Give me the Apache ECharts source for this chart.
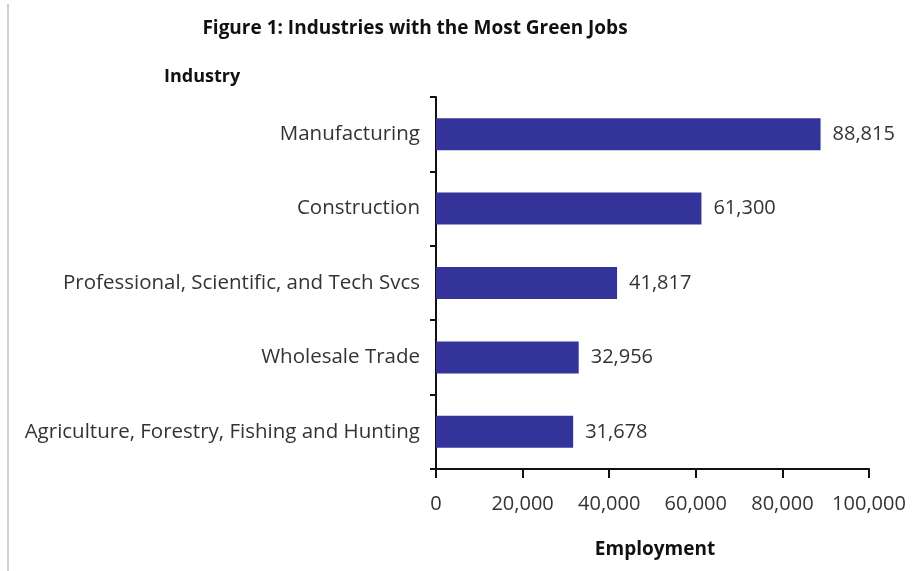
<!DOCTYPE html>
<html><head><meta charset="utf-8">
<script src="https://cdn.jsdelivr.net/npm/echarts@6/dist/echarts.min.js"></script>
<style>html,body{margin:0;padding:0;background:#fff}#c{width:917px;height:571px}</style>
</head><body><div id="c"></div>
<script>
const categories = ["Manufacturing","Construction","Professional, Scientific, and Tech Svcs","Wholesale Trade","Agriculture, Forestry, Fishing and Hunting"];
const employment = [88815, 61300, 41817, 32956, 31678];
const xTicks = [0, 20000, 40000, 60000, 80000, 100000];

const FONT = "Open Sans";
const BFONT = "Open Sans";
const fmt = v => v.toLocaleString('en-US');
const chart = echarts.init(document.getElementById('c'));
chart.setOption({
  animation: false,
  title: [
    {text: "Figure 1: Industries with the Most Green Jobs", left: 410, top: 14, textAlign: 'center',
     textStyle: {fontFamily: BFONT, fontWeight: 'bold', fontSize: 19, color: '#111'}},
    {text: "Industry", left: 159, top: 63,
     textStyle: {fontFamily: BFONT, fontWeight: 'bold', fontSize: 18, color: '#111'}},
    {text: "Employment", left: 650, top: 535, textAlign: 'center',
     textStyle: {fontFamily: BFONT, fontWeight: 'bold', fontSize: 19, color: '#111'}}
  ],
  graphic: [{type: 'line', shape: {x1: 8, y1: 4, x2: 8, y2: 571}, style: {stroke: '#d0d0d0', lineWidth: 2}}],
  grid: {left: 436, right: 48, top: 97, bottom: 102, containLabel: false},
  xAxis: {
    type: 'value', min: xTicks[0], max: xTicks[xTicks.length-1], interval: 20000,
    axisLine: {show: true, lineStyle: {color: '#111', width: 2}},
    axisTick: {show: true, length: 9, lineStyle: {color: '#111', width: 2}},
    splitLine: {show: false},
    axisLabel: {margin: 25, fontFamily: FONT, fontSize: 20, color: '#333', formatter: v => fmt(v)}
  },
  yAxis: {
    type: 'category', data: categories, inverse: true,
    axisLine: {show: true, lineStyle: {color: '#111', width: 2}},
    axisTick: {show: true, length: 6, inside: false, lineStyle: {color: '#111', width: 2}},
    axisLabel: {margin: 16, fontFamily: FONT, fontSize: 20.5, color: '#333'}
  },
  series: [{
    type: 'bar', data: employment, barWidth: 32,
    itemStyle: {color: '#333399'},
    label: {show: true, position: 'right', distance: 12, fontFamily: FONT, fontSize: 20, color: '#333', formatter: p => fmt(p.value)}
  }]
});
</script></body></html>
